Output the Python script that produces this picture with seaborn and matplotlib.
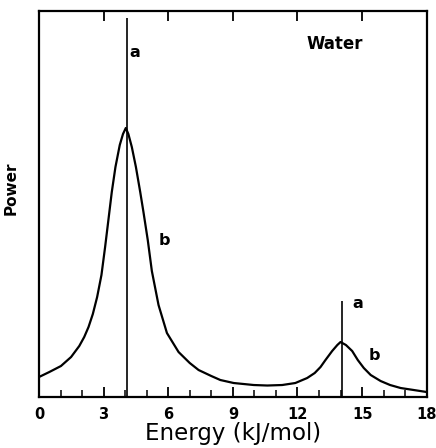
import matplotlib
matplotlib.use("Agg")
import matplotlib.pyplot as plt
import seaborn as sns
import pandas as pd
import numpy as np

# Spectrum curve (b)
energy = [0, 0.48, 1.02, 1.49, 1.87, 2.1, 2.3, 2.5, 2.7, 2.9, 3.07, 3.2, 3.38, 3.55, 3.75,
          3.9, 4.03, 4.15, 4.31, 4.5, 4.7, 4.85, 5.05, 5.24, 5.55, 5.94, 6.48,
          7.0, 7.41, 8.0, 8.42, 9.04, 9.97, 10.6, 11.29, 11.9, 12.45, 12.8, 13.07,
          13.3, 13.61, 13.85, 14.0, 14.25, 14.54, 14.8, 15.08, 15.4, 15.86, 16.3,
          16.79, 17.4, 18]
power = [20, 25, 31, 40, 51, 60, 70, 83, 100, 122, 150, 173, 205, 230, 252,
         263, 269, 263, 250, 230, 205, 185, 157, 126, 92, 64, 45,
         34, 27, 21, 17, 14, 12, 11.5, 12, 14, 19, 24, 30,
         37, 46, 52, 55, 52, 46, 37, 29, 22, 16, 12,
         9, 7, 5]

# Stick spectrum (a)
stick_energy = [4.08, 14.06]
stick_power = [379, 96]

xticks = [0, 3, 6, 9, 12, 15, 18]

sns.set_style("white")
plt.rcParams['font.family'] = ['DejaVu Sans']

fig = plt.figure(figsize=(4.36, 4.48), dpi=100)
ax = fig.add_axes([0.0894, 0.1138, 0.8893, 0.8616])

df = pd.DataFrame({"Energy": energy, "Power": power})
sns.lineplot(data=df, x="Energy", y="Power", ax=ax, color="black", linewidth=1.6)
ax.vlines(stick_energy, 0, stick_power, color="black", linewidth=1.2)

ax.set_xlim(0, 18)
ax.set_ylim(0, 386)
ax.set_xticks(xticks)
ax.set_xticks(np.arange(0, 19, 1), minor=True)
ax.set_yticks([])
ax.tick_params(axis="x", which="major", direction="in", length=7, width=1.3,
               top=True, bottom=True, labelsize=10.5, pad=7, colors="black")
ax.tick_params(axis="x", which="minor", direction="in", length=5, width=1.1,
               top=False, bottom=True, colors="black")
for lab in ax.get_xticklabels():
    lab.set_fontweight("bold")
for s in ax.spines.values():
    s.set_linewidth(1.6)
    s.set_color("black")

ax.set_xlabel("Energy (kJ/mol)", fontsize=16.5, labelpad=0, color="black")
ax.set_ylabel("Power", fontsize=11, fontweight="bold", color="black")
ax.yaxis.set_label_coords(-0.052, 0.541)

ax.text(4.45, 345, "a", fontsize=11.5, fontweight="bold", ha="center", va="center", color="black")
ax.text(5.81, 157, "b", fontsize=11.5, fontweight="bold", ha="center", va="center", color="black")
ax.text(13.72, 353, "Water", fontsize=12, fontweight="bold", ha="center", va="center", color="black")
ax.text(14.81, 94, "a", fontsize=11.5, fontweight="bold", ha="center", va="center", color="black")
ax.text(15.58, 42, "b", fontsize=11.5, fontweight="bold", ha="center", va="center", color="black")

fig.savefig("out.png", dpi=100)
